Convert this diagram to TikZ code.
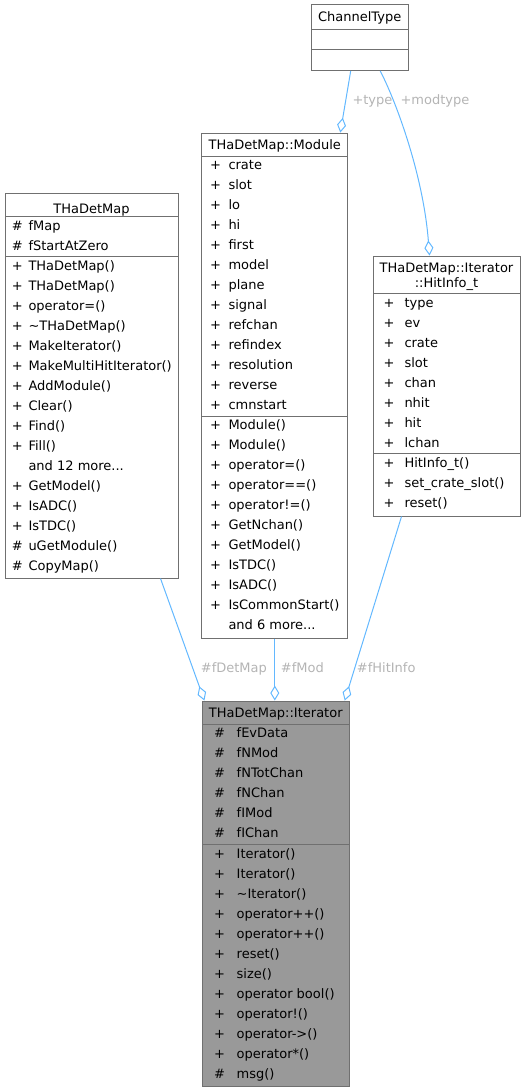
\documentclass[tikz,border=0pt]{standalone}
\usepackage{fontspec}
\setmainfont{DejaVu Sans}
\usetikzlibrary{arrows.meta}
\definecolor{edgec}{HTML}{63B8FF}
\definecolor{lblc}{HTML}{B4B4B4}
\definecolor{bordc}{HTML}{707070}
\definecolor{curfill}{HTML}{999999}
\newcommand\dfont{\fontsize{13}{16}\selectfont}
\newcommand\mydots{...}
\tikzset{
  cls/.style={draw=bordc, line width=1pt, fill=white, inner sep=0pt},
  rowtxt/.style={anchor=base west, inner sep=0pt, font=\dfont},
  ttl/.style={anchor=base, inner sep=0pt, font=\dfont, align=center},
  sepl/.style={draw=bordc, line width=1pt},
  uedge/.style={draw=edgec, line width=1pt, -{Diamond[open, length=15pt, width=9pt, line width=1pt]}},
  lbl/.style={text=lblc, font=\dfont, inner sep=0pt, anchor=base west}
}
% #1 name prefix, #2 symbol x, #3 text x, #4 first row centre y, #5 list
\newcommand\classrows[5]{%
  \foreach \sy/\tx [count=\i from 0] in {#5} {
    \node[rowtxt] (#1s\i) at (#2,{#4+20*\i+4.5}) {\sy};
    \node[rowtxt] (#1t\i) at (#3,{#4+20*\i+4.5}) {\tx};
  }%
}
\begin{document}
\begin{tikzpicture}[x=1pt,y=-1pt]
\useasboundingbox (0,0) rectangle (525,1092);

% ChannelType
\node[cls, minimum width=97pt, minimum height=65.5pt] (chan) at (359.7,37.7) {};
\node[ttl] (chant) at (359.7,21.8) {ChannelType};
\draw[sepl] (311.2,29) -- (408.2,29);
\draw[sepl] (311.2,49) -- (408.2,49);

% THaDetMap::Module
\node[cls, minimum width=146pt, minimum height=505pt] (mod) at (274.8,385.6) {};
\node[ttl] (modt) at (274.8,149.5) {THaDetMap::Module};
\draw[sepl] (201.8,156.7) -- (347.8,156.7);
\draw[sepl] (201.8,416.5) -- (347.8,416.5);
\classrows{ma}{210}{228.3}{165}{+/crate,+/slot,+/lo,+/hi,+/first,+/model,+/plane,+/signal,+/refchan,+/refindex,+/resolution,+/reverse,+/cmnstart}
\classrows{mm}{210}{228.3}{425}{+/Module(),+/Module(),+/operator=(),+/operator==(),+/operator!=(),+/GetNchan(),+/GetModel(),+/IsTDC(),+/IsADC(),+/IsCommonStart(),{}/and 6 more\mydots}

% THaDetMap
\node[cls, minimum width=173pt, minimum height=385pt] (detmap) at (91.5,385.5) {};
\node[ttl] (detmapt) at (91.5,213.5) {THaDetMap};
\draw[sepl] (5,216.3) -- (178,216.3);
\draw[sepl] (5,256.7) -- (178,256.7);
\classrows{da}{11.8}{28.3}{226}{\#/fMap,\#/fStartAtZero}
\classrows{dm}{11.8}{28.3}{266}{+/THaDetMap(),+/THaDetMap(),+/operator=(),+/\textasciitilde THaDetMap(),+/MakeIterator(),+/MakeMultiHitIterator(),+/AddModule(),+/Clear(),+/Find(),+/Fill(),{}/and 12 more\mydots,+/GetModel(),+/IsADC(),+/IsTDC(),\#/uGetModule(),\#/CopyMap()}

% THaDetMap::Iterator::HitInfo_t
\node[cls, minimum width=147pt, minimum height=260pt] (hit) at (446.5,386) {};
\node[ttl] (hitt) at (446.5,272.5) {THaDetMap::Iterator};
\node[ttl] (hitt2) at (446.5,287.5) {::HitInfo\_t};
\draw[sepl] (373,293.3) -- (520,293.3);
\draw[sepl] (373,453.3) -- (520,453.3);
\classrows{ha}{383.3}{404.3}{303}{+/type,+/ev,+/crate,+/slot,+/chan,+/nhit,+/hit,+/lchan}
\classrows{hm}{383.3}{404.3}{463}{+/HitInfo\_t(),+/set\_crate\_slot(),+/reset()}

% THaDetMap::Iterator
\node[cls, fill=curfill, minimum width=146.8pt, minimum height=385.5pt] (iter) at (275.8,893.8) {};
\node[ttl] (itert) at (275.8,717.8) {THaDetMap::Iterator};
\draw[sepl] (202.4,724.3) -- (349.2,724.3);
\draw[sepl] (202.4,844) -- (349.2,844);
\classrows{ia}{214}{236.5}{733.3}{\#/fEvData,\#/fNMod,\#/fNTotChan,\#/fNChan,\#/fIMod,\#/fIChan}
\classrows{im}{214}{236.5}{854}{+/Iterator(),+/Iterator(),+/\textasciitilde Iterator(),+/operator++(),+/operator++(),+/reset(),+/size(),+/operator bool(),+/operator!(),+/operator->(),+/operator*(),\#/msg()}

% connectors
\draw[uedge] ([xshift=40pt]chan.south west) -- ([xshift=-8pt]mod.north east);
\draw[uedge] ([xshift=69.5pt]chan.south west) .. controls (394,97) and (423,172) .. ([xshift=57pt]hit.north west);
\draw[uedge] ([xshift=156pt]detmap.south west) -- ([xshift=2.5pt]iter.north west);
\draw[uedge] (mod.south) -- (mod.south |- iter.north);
\draw[uedge] ([xshift=29pt]hit.south west) -- ([xshift=-5pt]iter.north east);

% labels
\node[lbl] (l1) at (352.3,104.5) {+type};
\node[lbl] (l2) at (400.3,104.5) {+modtype};
\node[lbl] (l3) at (200.7,672.5) {\#fDetMap};
\node[lbl] (l4) at (280.7,672.5) {\#fMod};
\node[lbl] (l5) at (356.7,672.5) {\#fHitInfo};
\end{tikzpicture}
\end{document}
